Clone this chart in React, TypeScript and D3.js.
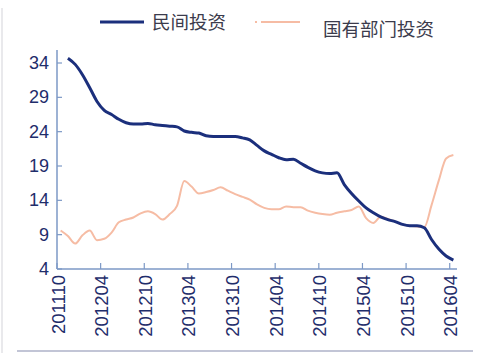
import * as d3 from 'd3';

// monthly categories 201110 .. 201604
const months = [
  '201110', '201111', '201112',
  '201201', '201202', '201203', '201204', '201205', '201206', '201207', '201208', '201209', '201210', '201211', '201212',
  '201301', '201302', '201303', '201304', '201305', '201306', '201307', '201308', '201309', '201310', '201311', '201312',
  '201401', '201402', '201403', '201404', '201405', '201406', '201407', '201408', '201409', '201410', '201411', '201412',
  '201501', '201502', '201503', '201504', '201505', '201506', '201507', '201508', '201509', '201510', '201511', '201512',
  '201601', '201602', '201603', '201604',
];

const tickMonths = ['201110', '201204', '201210', '201304', '201310', '201404', '201410', '201504', '201510', '201604'];
const yTicks = [4, 9, 14, 19, 24, 29, 34];

// 民间投资
const privateInv: (number | null)[] = [
  null, 34.7, 33.8, 32.3, 30.4, 28.4, 27.1, 26.5, 25.8, 25.3,
  25.1, 25.1, 25.2, 25.0, 24.9, 24.8, 24.7, 24.1, 23.9, 23.8,
  23.4, 23.3, 23.3, 23.3, 23.3, 23.1, 22.8, 22.0, 21.2, 20.7,
  20.2, 19.9, 20.0, 19.4, 18.8, 18.3, 18.0, 17.9, 18.0, 16.3,
  15.0, 13.9, 12.9, 12.2, 11.6, 11.2, 10.9, 10.5, 10.3, 10.3,
  10.0, 8.3, 6.9, 5.9, 5.3,
];

// 国有部门投资
const stateInv: (number | null)[] = [
  9.6, 8.8, 7.7, 8.9, 9.6, 8.2, 8.4, 9.3, 10.8, 11.2,
  11.5, 12.1, 12.4, 12.0, 11.2, 12.0, 13.2, 16.8, 16.0, 15.0,
  15.2, 15.5, 15.9, 15.4, 14.9, 14.5, 14.1, 13.4, 12.9, 12.7,
  12.7, 13.1, 13.0, 13.0, 12.5, 12.2, 12.0, 11.9, 12.2, 12.4,
  12.6, 13.1, 11.4, 10.7, 11.6, 11.3, 10.9, 10.5, 10.3, 10.2,
  10.1, 13.3, 16.9, 20.1, 20.6,
];

const BLUE = '#1b2f7c';
const ORANGE = '#f6bca4';
const AXIS = '#7d99c6';
const LABEL = '#1f2d6b';
const NUM_FONT = '"Liberation Sans", Arial, sans-serif';
const CJK_FONT = '"Noto Sans CJK SC", "Noto Sans", sans-serif';

export default function App() {
  const x = d3.scaleBand<string>().domain(months).range([57, 457]);
  const y = d3.scaleLinear().domain([4, 34]).range([269, 63]);
  const cx = (m: string) => (x(m) ?? 0) + x.bandwidth() / 2;

  const line = d3
    .line<number | null>()
    .defined((d) => d != null)
    .x((_, i) => cx(months[i]))
    .y((d) => y(d as number))
    .curve(d3.curveMonotoneX);

  const x0 = x.range()[0];
  const x1 = x.range()[1];
  const yb = y(4);

  return (
    <svg
      width={500}
      height={353}
      style={{ position: 'absolute', left: 0, top: 0, background: '#fff' }}
    >
      {/* frame bits */}
      <line x1={2} x2={2} y1={8} y2={353} stroke="#e2e2e6" strokeWidth={1.5} />
      <line x1={17} x2={473} y1={351} y2={351} stroke="#aeb2c8" strokeWidth={1.5} />

      {/* legend */}
      <line x1={100} x2={144} y1={22} y2={22} stroke={BLUE} strokeWidth={3} />
      <text x={152} y={21} dominantBaseline="central" fontFamily={CJK_FONT} fontSize={18.5} fill="#3b3b4c">
        民间投资
      </text>
      <line x1={255} x2={257} y1={22} y2={22} stroke={ORANGE} strokeWidth={2} />
      <line x1={261} x2={300} y1={22} y2={22} stroke={ORANGE} strokeWidth={2} />
      <text x={323} y={28} dominantBaseline="central" fontFamily={CJK_FONT} fontSize={18.5} fill="#3b3b4c">
        国有部门投资
      </text>

      {/* y axis */}
      <line x1={x0} x2={x0} y1={y(35.9)} y2={yb} stroke={AXIS} strokeWidth={1.5} />
      {yTicks.map((t) => (
        <g key={t}>
          <line x1={x0} x2={x0 + 5} y1={y(t)} y2={y(t)} stroke={AXIS} strokeWidth={1.2} />
          <text
            x={x0 - 8}
            y={y(t)}
            textAnchor="end"
            dominantBaseline="central"
            fontFamily={NUM_FONT}
            fontSize={18}
            fill={LABEL}
          >
            {t}
          </text>
        </g>
      ))}

      {/* x axis */}
      <line x1={x0} x2={x1} y1={yb} y2={yb} stroke={AXIS} strokeWidth={1.5} />
      {tickMonths.map((m) => {
        const tx = x(m) ?? 0;
        return (
          <g key={m}>
            <line x1={tx} x2={tx} y1={yb} y2={yb - 6} stroke={AXIS} strokeWidth={1.2} />
            <text
              transform={`translate(${tx + 1},${yb + 6}) rotate(-90)`}
              textAnchor="end"
              dominantBaseline="central"
              fontFamily={NUM_FONT}
              fontSize={18.5}
              fill={LABEL}
            >
              {m}
            </text>
          </g>
        );
      })}

      {/* series */}
      <path d={line(stateInv) ?? ''} fill="none" stroke={ORANGE} strokeWidth={2} strokeLinejoin="round" />
      <path d={line(privateInv) ?? ''} fill="none" stroke={BLUE} strokeWidth={3} strokeLinejoin="round" />
    </svg>
  );
}
